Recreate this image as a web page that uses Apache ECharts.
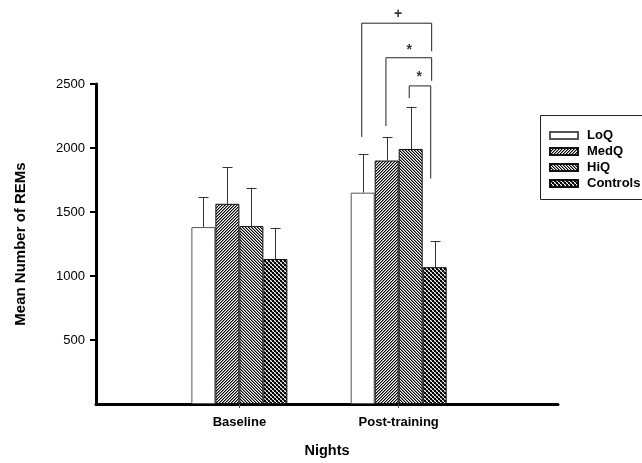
<!DOCTYPE html>
<html><head><meta charset="utf-8">
<script src="https://cdn.jsdelivr.net/npm/echarts@6/dist/echarts.min.js"></script>
<style>html,body{margin:0;padding:0;background:#fff}#c{width:642px;height:463px}</style>
</head><body><div id="c"></div>
<script>
const categories = ['Baseline', 'Post-training'];
const seriesNames = ['LoQ', 'MedQ', 'HiQ', 'Controls'];
const loqMean = [1382, 1651];
const loqErr = [233, 300];
const medqMean = [1564, 1902];
const medqErr = [287, 185];
const hiqMean = [1390, 1992];
const hiqErr = [300, 331];
const controlsMean = [1133, 1069];
const controlsErr = [244, 205];
const yTicks = [500, 1000, 1500, 2000, 2500];
// significance brackets (in axis units)
const bracketPlus = [[1.768, 2087], [1.768, 2975], [2.207, 2975], [2.207, 2756]];
const bracketStar1 = [[1.920, 2172], [1.920, 2705], [2.207, 2705], [2.207, 2525]];
const bracketStar2 = [[2.066, 2390], [2.066, 2485], [2.201, 2485], [2.201, 1762]];
const sigLabels = [['+', 1.997, 3044], ['*', 2.066, 2762], ['*', 2.129, 2556]];

const means = [loqMean, medqMean, hiqMean, controlsMean];
const errs = [loqErr, medqErr, hiqErr, controlsErr];

function tile(n, fn) {
  const c = document.createElement('canvas');
  c.width = n; c.height = n;
  const ctx = c.getContext('2d');
  for (let x = 0; x < n; x++) for (let y = 0; y < n; y++) {
    ctx.fillStyle = fn(x, y);
    ctx.fillRect(x, y, 1, 1);
  }
  return c;
}
const fills = [
  '#ffffff',
  { image: tile(6, (x, y) => { const m = (x + y) % 3; return m === 0 ? '#000' : (m === 1 ? '#8a8a8a' : '#fff'); }), repeat: 'repeat' },
  { image: tile(6, (x, y) => { const m = (x - y + 6) % 3; return m === 0 ? '#000' : (m === 1 ? '#8a8a8a' : '#fff'); }), repeat: 'repeat' },
  { image: tile(4, (x, y) => ((((x >> 1) + (y >> 1)) % 2) === 0 ? '#000' : ((x + y) % 2 === 0 ? '#fff' : '#777'))), repeat: 'repeat' }
];
const borders = ['#555', '#111', '#111', '#111'];
const BW = 24;
const font = '"Liberation Sans", Arial, sans-serif';

const series = [];
seriesNames.forEach((name, i) => {
  series.push({
    name, type: 'bar', barWidth: BW, barGap: '0%',
    data: categories.map((c, j) => [j + 1, means[i][j]]),
    itemStyle: { color: fills[i], borderColor: borders[i], borderWidth: 1 },
    z: 2
  });
});
seriesNames.forEach((name, i) => {
  series.push({
    type: 'custom', name: name + '_err', z: 3,
    data: categories.map((c, j) => [j + 1, means[i][j], means[i][j] + errs[i][j]]),
    renderItem: (params, api) => {
      const off = (i - 1.5) * BW;
      const p0 = api.coord([api.value(0), api.value(1)]);
      const p1 = api.coord([api.value(0), api.value(2)]);
      const x = Math.round(p0[0] + off) + 0.5;
      return {
        type: 'group', children: [
          { type: 'line', shape: { x1: x, y1: p0[1], x2: x, y2: p1[1] }, style: { stroke: '#333', lineWidth: 1 } },
          { type: 'line', shape: { x1: x - 5, y1: Math.round(p1[1]) + 0.5, x2: x + 5, y2: Math.round(p1[1]) + 0.5 }, style: { stroke: '#333', lineWidth: 1 } }
        ]
      };
    }
  });
});
[bracketPlus, bracketStar1, bracketStar2].forEach((b, k) => {
  series.push({
    type: 'line', name: 'br' + k, data: b, symbol: 'none', clip: false,
    lineStyle: { color: '#222', width: 1 }, z: 4, silent: true
  });
});
series.push({
  type: 'scatter', name: 'sig', clip: false, symbolSize: 1,
  itemStyle: { color: 'rgba(0,0,0,0)' },
  data: sigLabels.map(s => ({ name: s[0], value: [s[1], s[2]] })),
  label: { show: true, position: 'inside', formatter: p => p.name, fontFamily: font, fontWeight: 'bold', fontSize: 14, color: '#000' },
  z: 5
});

const chart = echarts.init(document.getElementById('c'));
chart.setOption({
  animation: false,
  backgroundColor: '#fff',
  grid: { left: 96, top: 84, width: 462, height: 325 },
  legend: {
    data: seriesNames, orient: 'vertical', left: 540, top: 115,
    padding: [14, 0, 0, 9], itemWidth: 28, itemHeight: 7, itemGap: 3,
    icon: 'rect',
    textStyle: { fontFamily: font, fontWeight: 'bold', fontSize: 13, color: '#000', padding: [0, 0, 0, 4] }
  },
  graphic: [{
    type: 'rect', silent: true,
    shape: { x: 540.5, y: 115.5, width: 130, height: 84 },
    style: { fill: null, stroke: '#222', lineWidth: 1 }
  }],
  xAxis: {
    type: 'value', min: 0.1, max: 3,
    name: 'Nights', nameLocation: 'middle', nameGap: 39,
    nameTextStyle: { fontFamily: font, fontWeight: 'bold', fontSize: 14.5, color: '#000' },
    splitLine: { show: false },
    axisLine: { lineStyle: { color: '#000', width: 3 } },
    axisTick: { customValues: [1, 2], length: 4, lineStyle: { color: '#555', width: 1 } },
    axisLabel: { customValues: [1, 2], formatter: v => categories[Math.round(v) - 1] || '', margin: 12,
      fontFamily: font, fontWeight: 'bold', fontSize: 13, color: '#000' }
  },
  yAxis: {
    type: 'value', min: 0, max: 2500, interval: 500,
    name: 'Mean Number of REMs', nameLocation: 'middle', nameGap: 68,
    nameTextStyle: { fontFamily: font, fontWeight: 'bold', fontSize: 15, color: '#000' },
    splitLine: { show: false },
    axisLine: { show: true, lineStyle: { color: '#000', width: 3 } },
    axisTick: { show: true, customValues: yTicks, length: 6, lineStyle: { color: '#000', width: 2 } },
    axisLabel: { customValues: yTicks, formatter: v => String(v), margin: 11, fontFamily: font, fontSize: 13, color: '#000' }
  },
  series
});
</script></body></html>
